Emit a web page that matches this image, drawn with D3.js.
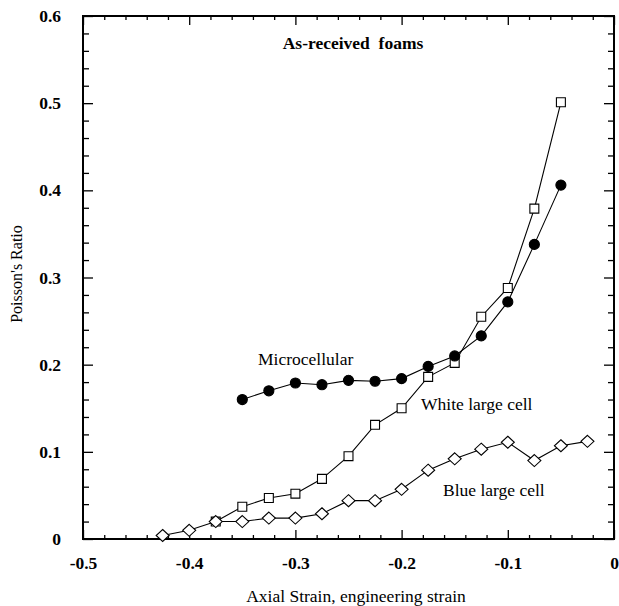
<!DOCTYPE html>
<html>
<head>
<meta charset="utf-8">
<script src="https://cdn.jsdelivr.net/npm/d3@7"></script>
<style>
  body { margin: 0; background: #fff; }
  svg text { font-family: "Liberation Serif", "Times New Roman", serif; fill: #000; }
</style>
</head>
<body>
<svg id="chart"></svg>
<script>
// Data: axial strain vs Poisson's ratio
const micro_strain = [-0.35, -0.325, -0.3, -0.275, -0.25, -0.225, -0.2, -0.175, -0.15, -0.125, -0.1, -0.075, -0.05];
const micro_ratio = [0.160, 0.170, 0.179, 0.177, 0.182, 0.181, 0.184, 0.198, 0.210, 0.233, 0.272, 0.338, 0.406];

const white_strain = [-0.375, -0.35, -0.325, -0.3, -0.275, -0.25, -0.225, -0.2, -0.175, -0.15, -0.125, -0.1, -0.075, -0.05];
const white_ratio = [0.020, 0.037, 0.047, 0.052, 0.069, 0.095, 0.131, 0.150, 0.186, 0.202, 0.255, 0.288, 0.379, 0.501];

const blue_strain = [-0.425, -0.4, -0.375, -0.35, -0.325, -0.3, -0.275, -0.25, -0.225, -0.2, -0.175, -0.15, -0.125, -0.1, -0.075, -0.05, -0.025];
const blue_ratio = [0.004, 0.010, 0.020, 0.020, 0.024, 0.024, 0.029, 0.044, 0.044, 0.057, 0.079, 0.092, 0.103, 0.111, 0.090, 0.107, 0.112];

// Axis ticks
const x_major_ticks = [-0.5, -0.4, -0.3, -0.2, -0.1, 0];
const x_minor_ticks = d3.range(-0.48, 0, 0.02).filter(v => Math.abs(v * 10 - Math.round(v * 10)) > 1e-6);
const y_major_ticks = [0, 0.1, 0.2, 0.3, 0.4, 0.5, 0.6];
const y_minor_ticks = d3.range(0.02, 0.6, 0.02).filter(v => Math.abs(v * 10 - Math.round(v * 10)) > 1e-6);

// Chart dimensions
const width = 619, height = 606;
const margins = { top: 16, right: 5, bottom: 67, left: 83 };
const chart_width = width - margins.left - margins.right;
const chart_height = height - margins.top - margins.bottom;

const x_scale = d3.scaleLinear().domain([-0.5, 0]).range([0, chart_width]);
const y_scale = d3.scaleLinear().domain([0, 0.6]).range([chart_height, 0]);

const fmt = d => String(+d.toFixed(1));
const serif = "Liberation Serif, Times New Roman, serif";

const svg = d3.select("#chart")
    .attr("width", width)
    .attr("height", height)
    .attr("font-family", serif)
    .append("g")
    .attr("transform", `translate(${margins.left},${margins.top})`);

// Frame
svg.append("rect")
    .attr("width", chart_width)
    .attr("height", chart_height)
    .attr("fill", "none")
    .attr("stroke", "#000")
    .attr("stroke-width", 2);

// Helper to draw an inward tick set
function add_axis(axis, transform, labelled) {
    const g = svg.append("g").attr("transform", transform).call(axis);
    g.attr("font-family", serif);
    g.select(".domain").remove();
    g.selectAll(".tick line").attr("stroke", "#000").attr("stroke-width", 1.3);
    if (!labelled) g.selectAll(".tick text").remove();
    return g;
}

// Bottom axis
const bottom = add_axis(d3.axisBottom(x_scale).tickValues(x_major_ticks).tickSize(-9).tickPadding(18).tickFormat(fmt),
    `translate(0,${chart_height})`, true);
bottom.selectAll(".tick text").attr("font-size", 17.5).attr("font-weight", "bold");
add_axis(d3.axisBottom(x_scale).tickValues(x_minor_ticks).tickSize(-4), `translate(0,${chart_height})`, false);

// Top axis
add_axis(d3.axisTop(x_scale).tickValues(x_major_ticks).tickSize(-9), "translate(0,0)", false);
add_axis(d3.axisTop(x_scale).tickValues(x_minor_ticks).tickSize(-4), "translate(0,0)", false);

// Left axis
const left = add_axis(d3.axisLeft(y_scale).tickValues(y_major_ticks).tickSize(-10).tickPadding(22).tickFormat(fmt),
    "translate(0,0)", true);
left.selectAll(".tick text").attr("font-size", 17.5).attr("font-weight", "bold");
add_axis(d3.axisLeft(y_scale).tickValues(y_minor_ticks).tickSize(-6), "translate(0,0)", false);

// Right axis
add_axis(d3.axisRight(y_scale).tickValues(y_major_ticks).tickSize(-10), `translate(${chart_width},0)`, false);
add_axis(d3.axisRight(y_scale).tickValues(y_minor_ticks).tickSize(-6), `translate(${chart_width},0)`, false);

// Axis titles
svg.append("text")
    .attr("x", 356 - margins.left)
    .attr("y", chart_height + 63)
    .attr("text-anchor", "middle")
    .attr("font-size", 17.5)
    .text("Axial Strain, engineering strain");

svg.append("text")
    .attr("transform", `translate(${-61},${274 - margins.top}) rotate(-90)`)
    .attr("text-anchor", "middle")
    .attr("font-size", 16)
    .text("Poisson's Ratio");

// Chart title
svg.append("text")
    .attr("x", 353 - margins.left)
    .attr("y", 49 - margins.top)
    .attr("text-anchor", "middle")
    .attr("font-size", 17.5)
    .attr("font-weight", "bold")
    .attr("xml:space", "preserve")
    .text("As-received  foams");

// Series
const line = d3.line().x(d => x_scale(d[0])).y(d => y_scale(d[1]));
const series = [
    { pts: d3.zip(white_strain, white_ratio), symbol: d3.symbolSquare, size: 80, fill: "#fff" },
    { pts: d3.zip(blue_strain, blue_ratio), symbol: d3.symbolDiamond, size: 0, fill: "#fff" },
    { pts: d3.zip(micro_strain, micro_ratio), symbol: d3.symbolCircle, size: 80, fill: "#000" }
];

series.forEach(s => {
    svg.append("path")
        .datum(s.pts)
        .attr("d", line)
        .attr("fill", "none")
        .attr("stroke", "#000")
        .attr("stroke-width", 1.1);
});

series.forEach(s => {
    const g = svg.append("g");
    if (s.symbol === d3.symbolDiamond) {
        // Wider diamond, as in the figure
        g.selectAll("path")
            .data(s.pts)
            .join("path")
            .attr("d", "M0,-6L6.5,0L0,6L-6.5,0Z")
            .attr("transform", d => `translate(${x_scale(d[0])},${y_scale(d[1])})`)
            .attr("fill", s.fill)
            .attr("stroke", "#000")
            .attr("stroke-width", 1.1);
    } else {
        g.selectAll("path")
            .data(s.pts)
            .join("path")
            .attr("d", d3.symbol(s.symbol, s.size))
            .attr("transform", d => `translate(${x_scale(d[0])},${y_scale(d[1])})`)
            .attr("fill", s.fill)
            .attr("stroke", "#000")
            .attr("stroke-width", 1.1);
    }
});

// Series labels
const labels = [
    { text: "Microcellular", x: 258, y: 365 },
    { text: "White large cell", x: 421, y: 410 },
    { text: "Blue large cell", x: 443, y: 496 }
];
svg.selectAll(".series-label")
    .data(labels)
    .join("text")
    .attr("class", "series-label")
    .attr("x", d => d.x - margins.left)
    .attr("y", d => d.y - margins.top)
    .attr("font-size", 17.5)
    .text(d => d.text);
</script>
</body>
</html>
